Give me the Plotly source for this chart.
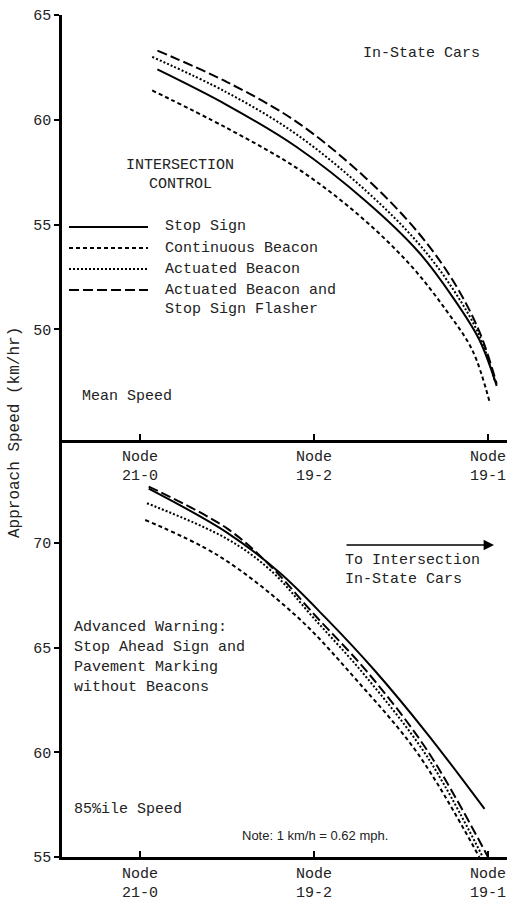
import plotly.graph_objects as go

# ---- node positions along the approach (x) ----
node_pos = [0, 1, 2]
node_labels = ["Node<br>21-0", "Node<br>19-2", "Node<br>19-1"]

# ---- Mean speed, in-state cars (km/hr) ----
mean_stop_x = [0.10, 0.50, 0.90, 1.30, 1.60, 1.80, 1.95, 2.05]
mean_stop = [62.4, 60.7, 58.7, 56.1, 53.7, 51.5, 49.5, 47.3]
mean_cont_x = [0.07, 0.50, 0.90, 1.25, 1.55, 1.76, 1.91, 2.01]
mean_cont = [61.4, 59.6, 57.7, 55.5, 53.1, 50.9, 49.0, 46.5]
mean_act_x = [0.07, 0.50, 0.90, 1.30, 1.60, 1.80, 1.95, 2.04]
mean_act = [63.0, 61.3, 59.3, 56.6, 54.1, 51.9, 49.7, 47.5]
mean_flash_x = [0.10, 0.50, 0.90, 1.30, 1.60, 1.80, 1.95, 2.05]
mean_flash = [63.3, 61.8, 59.9, 57.2, 54.6, 52.3, 49.9, 47.4]

# ---- 85th percentile speed, advanced warning without beacons (km/hr) ----
p85_stop_x = [0.05, 0.50, 0.80, 1.07, 1.35, 1.65, 1.98]
p85_stop = [72.6, 70.5, 68.6, 66.4, 63.9, 60.9, 57.3]
p85_cont_x = [0.03, 0.45, 0.90, 1.25, 1.60, 1.95]
p85_cont = [71.1, 69.4, 66.5, 63.4, 59.9, 55.0]
p85_act_x = [0.04, 0.50, 0.75, 1.00, 1.30, 1.65, 1.97]
p85_act = [71.9, 70.2, 68.7, 66.4, 63.6, 59.8, 55.0]
p85_flash_x = [0.05, 0.50, 0.75, 1.00, 1.30, 1.65, 2.00]
p85_flash = [72.7, 70.7, 68.9, 66.6, 63.9, 60.1, 55.0]

top_ticks = [50, 55, 60, 65]
bottom_ticks = [55, 60, 65, 70]

series_names = ["Stop Sign", "Continuous Beacon", "Actuated Beacon",
                "Actuated Beacon and<br>Stop Sign Flasher"]
dashes = ["solid", "4px,3px", "2px,2px", "10px,4px"]

W, H = 507, 907
ML, MR, MT, MB = 62, 0, 15, 50
PW, PH = W - ML - MR, H - MT - MB
SPLIT = 440  # pixel row where the two panels meet
split_frac = (H - MB - SPLIT) / PH

MONO = "Liberation Mono"


def px(xp):
    return (xp - ML) / PW


def py(yp):
    return (H - MB - yp) / PH


fig = go.Figure()

top_sets = [(mean_stop_x, mean_stop), (mean_cont_x, mean_cont),
            (mean_act_x, mean_act), (mean_flash_x, mean_flash)]
bot_sets = [(p85_stop_x, p85_stop), (p85_cont_x, p85_cont),
            (p85_act_x, p85_act), (p85_flash_x, p85_flash)]

for (xs, ys), name, dash in zip(top_sets, series_names, dashes):
    fig.add_trace(go.Scatter(x=xs, y=ys, mode="lines", name=name,
                             line=dict(color="black", width=2, dash=dash,
                                       shape="spline", smoothing=1.0),
                             xaxis="x", yaxis="y", showlegend=False))
for (xs, ys), name, dash in zip(bot_sets, series_names, dashes):
    fig.add_trace(go.Scatter(x=xs, y=ys, mode="lines", name=name,
                             line=dict(color="black", width=2, dash=dash,
                                       shape="spline", smoothing=1.0),
                             xaxis="x2", yaxis="y2", showlegend=False))

x_range = [(ML - 140) / 174, (W - 140) / 174]
axis_common = dict(showline=True, linecolor="black", linewidth=2.5,
                   showgrid=False, zeroline=False,
                   tickfont=dict(family=MONO, size=15, color="#222"))

fig.update_layout(
    width=W, height=H,
    margin=dict(l=ML, r=MR, t=MT, b=MB),
    paper_bgcolor="white", plot_bgcolor="white",
    xaxis=dict(axis_common, domain=[0, 1], range=x_range, anchor="y",
               tickvals=node_pos, ticktext=node_labels, ticks="inside",
               ticklen=6, tickcolor="black", tickwidth=1.5),
    yaxis=dict(axis_common, domain=[split_frac, 1],
               range=[65 - (SPLIT - MT) / 20.95, 65], anchor="x",
               tickvals=top_ticks, ticks="outside", ticklen=5,
               tickcolor="black", tickwidth=1.5),
    xaxis2=dict(axis_common, domain=[0, 1], range=x_range, anchor="y2",
                tickvals=node_pos, ticktext=node_labels, ticks="inside",
                ticklen=6, tickcolor="black", tickwidth=1.5),
    yaxis2=dict(axis_common, domain=[0, split_frac],
                range=[55, 55 + (H - MB - SPLIT) / 20.93], anchor="x2",
                tickvals=bottom_ticks, ticks="outside", ticklen=5,
                tickcolor="black", tickwidth=1.5),
    showlegend=False,
)

ann = []


def text(xp, yp, s, size=15, anchor="left", family=MONO):
    ann.append(dict(x=px(xp), y=py(yp), xref="paper", yref="paper", text=s,
                    showarrow=False, xanchor=anchor, yanchor="middle",
                    font=dict(family=family, size=size, color="#222")))


# upper panel texts
text(482, 53, "In-State Cars", anchor="right")
text(180, 165, "INTERSECTION", size=15, anchor="center")
text(180, 184, "CONTROL", size=15, anchor="center")
legend_rows = [227, 248, 269, 290]
for yrow, name in zip(legend_rows, ["Stop Sign", "Continuous Beacon",
                                     "Actuated Beacon", "Actuated Beacon and"]):
    text(163, yrow, name)
text(163, 310, "Stop Sign Flasher")
text(80, 397, "Mean Speed")

# lower panel texts
text(343, 560, "To Intersection")
text(343, 579, "In-State Cars")
text(72, 627, "Advanced Warning:")
text(72, 647, "Stop Ahead Sign and")
text(72, 667, "Pavement Marking")
text(72, 687, "without Beacons")
text(72, 809, "85%ile Speed")
text(315, 835, "Note: 1 km/h = 0.62 mph.", size=13, anchor="center",
     family="Liberation Sans")

# shared y title
ann.append(dict(x=px(15), y=py(433), xref="paper", yref="paper",
                text="Approach Speed (km/hr)", showarrow=False, textangle=-90,
                xanchor="center", yanchor="middle",
                font=dict(family=MONO, size=16, color="#222")))

# direction arrow
ann.append(dict(x=px(494), y=py(545), ax=-149, ay=0,
                xref="paper", yref="paper", axref="pixel", ayref="pixel",
                text="", showarrow=True, arrowhead=2, arrowsize=1.6,
                arrowwidth=1.3, arrowcolor="black"))

fig.update_layout(annotations=ann)

# legend line samples
shapes = []
for yrow, dash in zip(legend_rows, dashes):
    shapes.append(dict(type="line", xref="paper", yref="paper",
                       x0=px(69), x1=px(148), y0=py(yrow), y1=py(yrow),
                       line=dict(color="black", width=2, dash=dash)))
fig.update_layout(shapes=shapes)

fig.write_html("out.html")
